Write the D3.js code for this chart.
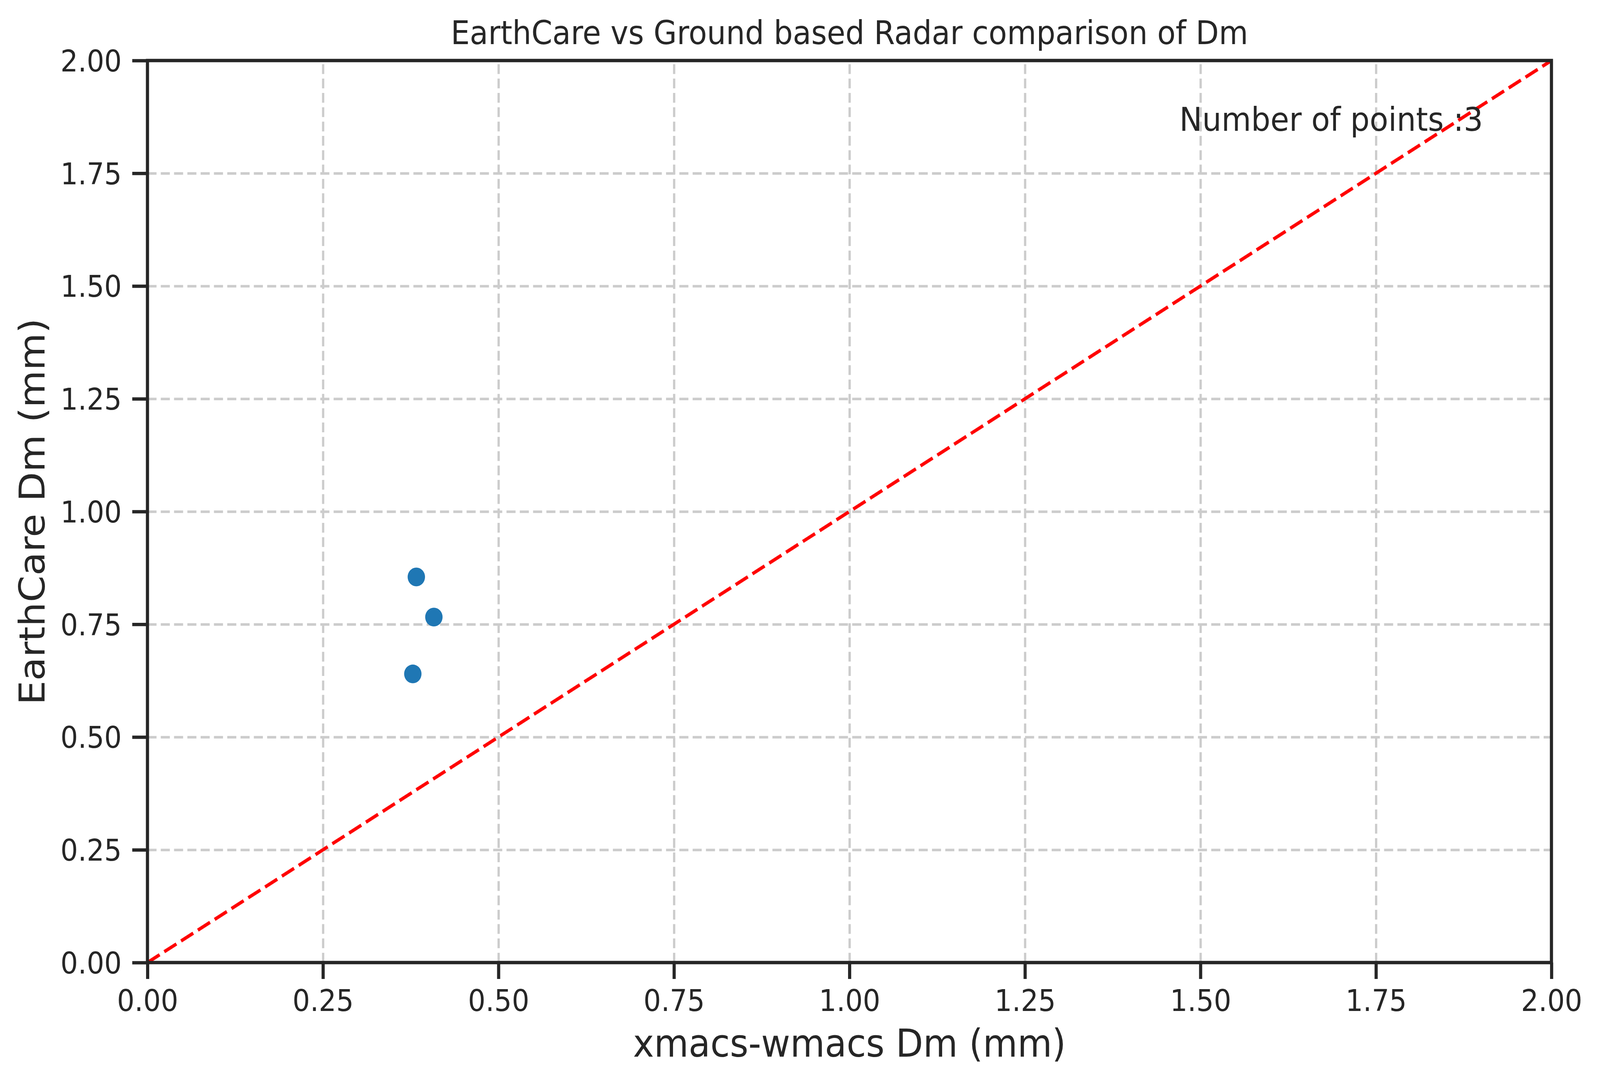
<!DOCTYPE html>
<html>
<head>
<meta charset="utf-8">
<script src="https://cdn.jsdelivr.net/npm/d3@7"></script>
<style>
    html, body { margin: 0; padding: 0; background: #fff; overflow: hidden; }
    #chart { width: 100vw; height: 100vh; }
    svg { display: block; width: 100%; height: 100%; }
    text { font-family: "DejaVu Sans", sans-serif; fill: #262626; }
</style>
</head>
<body>
<div id="chart"></div>
<script>
"use strict";

// Data
const xmacsDm = [0.383, 0.408, 0.378];
const earthcareDm = [0.855, 0.766, 0.640];
const tickValues = [0, 0.25, 0.5, 0.75, 1.0, 1.25, 1.5, 1.75, 2.0];
const oneToOne = [0, 2];
const titleText = "EarthCare vs Ground based Radar comparison of Dm";
const xLabelText = "xmacs-wmacs Dm (mm)";
const yLabelText = "EarthCare Dm (mm)";
const countText = "Number of points :" + xmacsDm.length;

const width = 4416, height = 2776;
const margin = { top: 155, right: 134, bottom: 311, left: 407 };
const innerW = width - margin.left - margin.right;
const innerH = height - margin.top - margin.bottom;

const ink = "#262626";

// Drawn in a fixed 4416x2776 coordinate space, stretched to the window
let svg = d3.select("#chart").append("svg")
    .attr("viewBox", "0 0 " + width + " " + height)
    .attr("preserveAspectRatio", "none");

let g = svg.append("g")
    .attr("transform", "translate(" + margin.left + "," + margin.top + ")");

let xScale = d3.scaleLinear().domain([0, 2]).range([0, innerW]);
let yScale = d3.scaleLinear().domain([0, 2]).range([innerH, 0]);

// Grid lines
let xGrid = g.append("g")
    .attr("transform", "translate(0," + innerH + ")")
    .call(d3.axisBottom(xScale).tickValues(tickValues).tickSize(-innerH).tickFormat(""));
let yGrid = g.append("g")
    .call(d3.axisLeft(yScale).tickValues(tickValues).tickSize(-innerW).tickFormat(""));
[xGrid, yGrid].forEach(function(grid) {
    grid.select(".domain").remove();
    grid.selectAll("line")
        .attr("stroke", "#cccccc")
        .attr("stroke-width", 6.3)
        .attr("stroke-dasharray", "25 11.7");
});

// 1:1 line
g.append("line")
    .attr("x1", xScale(oneToOne[0]))
    .attr("y1", yScale(oneToOne[0]))
    .attr("x2", xScale(oneToOne[1]))
    .attr("y2", yScale(oneToOne[1]))
    .attr("stroke", "#ff0000")
    .attr("stroke-width", 8.7)
    .attr("stroke-dasharray", "39 15");

// Scatter points
g.append("g").selectAll("circle")
    .data(xmacsDm)
  .enter().append("circle")
    .attr("cx", function(d) { return xScale(d); })
    .attr("cy", function(d, i) { return yScale(earthcareDm[i]); })
    .attr("r", 24)
    .attr("fill", "#1f77b4");

// Count annotation
g.append("text")
    .attr("x", xScale(1.47))
    .attr("y", yScale(1.844))
    .style("font-size", "84px")
    .text(countText);

// Axes with ticks
let fmt = d3.format(".2f");
let xAxis = g.append("g")
    .attr("transform", "translate(0," + innerH + ")")
    .call(d3.axisBottom(xScale).tickValues(tickValues).tickSize(42).tickPadding(0).tickFormat(fmt));
let yAxis = g.append("g")
    .call(d3.axisLeft(yScale).tickValues(tickValues).tickSize(42).tickPadding(29).tickFormat(fmt));

[xAxis, yAxis].forEach(function(ax) {
    ax.select(".domain").remove();
    ax.selectAll("line").attr("stroke", ink).attr("stroke-width", 8.7);
    ax.selectAll("text")
        .style("font-size", "76px")
        .attr("fill", ink);
});
xAxis.selectAll("text").attr("dy", null).attr("y", 124);
yAxis.selectAll("text").attr("dy", "0.36em");

// Frame (spines)
g.append("rect")
    .attr("width", innerW)
    .attr("height", innerH)
    .attr("fill", "none")
    .attr("stroke", ink)
    .attr("stroke-width", 8.7);

// Title and axis labels
svg.append("text")
    .attr("x", margin.left + innerW / 2)
    .attr("y", 113)
    .attr("text-anchor", "middle")
    .style("font-size", "83px")
    .text(titleText);

svg.append("text")
    .attr("x", margin.left + innerW / 2)
    .attr("y", 2706)
    .attr("text-anchor", "middle")
    .style("font-size", "98px")
    .text(xLabelText);

svg.append("text")
    .attr("transform", "translate(123," + (margin.top + innerH / 2) + ") rotate(-90)")
    .attr("text-anchor", "middle")
    .style("font-size", "98px")
    .text(yLabelText);
</script>
</body>
</html>
